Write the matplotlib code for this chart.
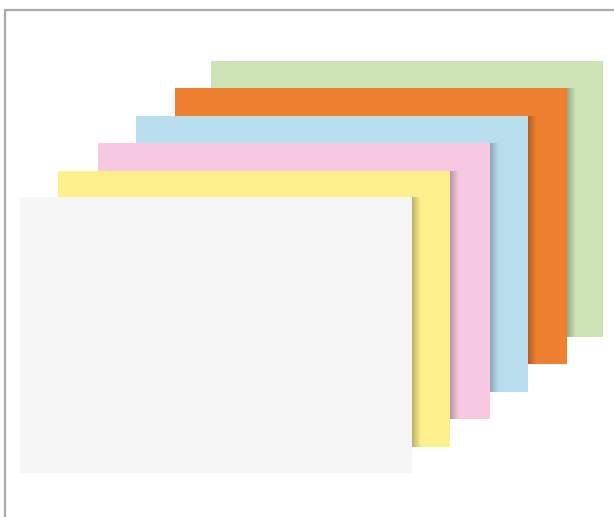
import numpy as np
import matplotlib
matplotlib.use("Agg")
import matplotlib.pyplot as plt
from matplotlib.patches import Rectangle

# sheets from back to front (pixel coords of the picture)
sheet_names = ["green", "orange", "blue", "pink", "yellow", "white"]
sheet_colors = ["#cde2b5", "#ef802f", "#b9dfef", "#f7c8e1", "#fdf08c", "#f5f5f6"]
sheet_left = [211, 175, 136, 98, 58, 20]
sheet_top = [61, 88, 116, 143, 171, 197]
sheet_w = 392
sheet_h = 276

W, H = 614, 517
fig = plt.figure(figsize=(W / 100, H / 100), dpi=100)
ax = fig.add_axes([0, 0, 1, 1])
ax.set_xlim(0, W)
ax.set_ylim(H, 0)
ax.axis("off")

# gray frame on left and top
ax.plot([5, 5], [9, H], color="#aaaaaa", lw=1.6, solid_capstyle="butt")
ax.plot([4, W], [10, 10], color="#aaaaaa", lw=1.6, solid_capstyle="butt")

shade = np.linspace(0.26, 0.0, 32).reshape(1, -1)
for i, (name, c) in enumerate(zip(sheet_names, sheet_colors)):
    x0, y0 = sheet_left[i], sheet_top[i]
    ax.add_patch(Rectangle((x0, y0), sheet_w, sheet_h, facecolor=c,
                           edgecolor="none", zorder=2 * i))
    # shadow from the next sheet falling on this one
    if i + 1 < len(sheet_names):
        xr = sheet_left[i + 1] + sheet_w
        yt = sheet_top[i + 1]
        yb = min(sheet_top[i + 1] + sheet_h, y0 + sheet_h)
        rgba = np.zeros((1, 32, 4))
        rgba[..., 3] = shade
        ax.imshow(rgba, extent=(xr, xr + 9, yb, yt), aspect="auto",
                  interpolation="bilinear", zorder=2 * i + 1)
    ax.set_xlim(0, W)
    ax.set_ylim(H, 0)

fig.savefig("out.png", dpi=100)
